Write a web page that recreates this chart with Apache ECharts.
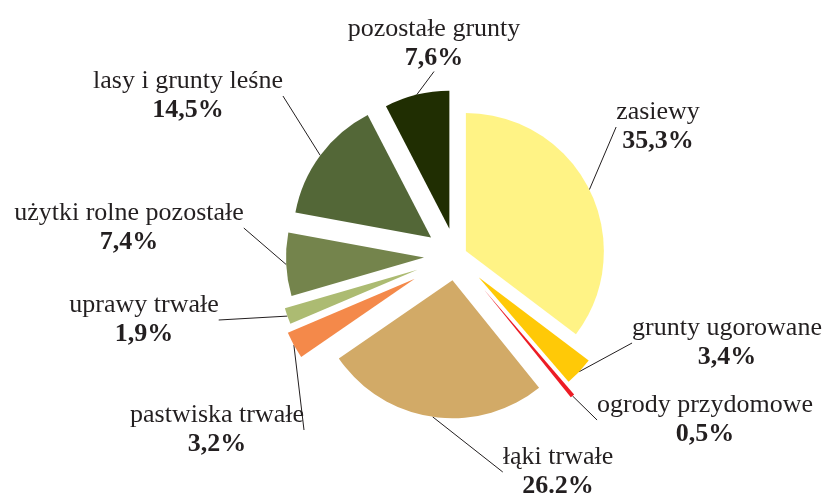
<!DOCTYPE html>
<html>
<head>
<meta charset="utf-8">
<script src="https://cdn.jsdelivr.net/npm/echarts@6/dist/echarts.min.js"></script>
<style>
  html, body { margin: 0; padding: 0; background: #fff; }
  #chart { width: 826px; height: 499px; }
</style>
</head>
<body>
<div id="chart"></div>
<script>
// udział powierzchni (%), kolejność zgodnie z ruchem wskazówek zegara od godz. 12
const categories = ['zasiewy', 'grunty ugorowane', 'ogrody przydomowe', 'łąki trwałe',
  'pastwiska trwałe', 'uprawy trwałe', 'użytki rolne pozostałe', 'lasy i grunty leśne', 'pozostałe grunty']
const values = [35.3, 3.4, 0.5, 26.2, 3.2, 1.9, 7.4, 14.5, 7.6]
const valueLabels = ['35,3%', '3,4%', '0,5%', '26.2%', '3,2%', '1,9%', '7,4%', '14,5%', '7,6%']

const colors = ['#fff385', '#ffc907', '#ed1c24', '#d2aa67', '#f4894a', '#acbb72', '#74844c', '#536737', '#202e02']
// wysunięcie wycinków od środka (px)
const explode = [11, 31, 44, 24.5, 47, 41, 32, 31, 28]
// środki bloków etykiet
const labelPos = [[658, 127], [727, 343], [705, 420], [558, 472], [217, 430], [144, 320], [129, 228], [188, 96], [434, 44]]

const pieCenter = [456, 256]
const pieRadius = 138
const textColor = '#231f20'
const font = '"Liberation Serif", "Times New Roman", serif'

const chart = echarts.init(document.getElementById('chart'), null, { renderer: 'canvas' })

// każdy wycinek jako osobna seria, przesunięta wzdłuż swojej dwusiecznej
const total = values.reduce((a, b) => a + b, 0)
let cum = 0
const series = categories.map((cat, i) => {
  const mid = (cum + values[i] / 2) / total * Math.PI * 2
  cum += values[i]
  return {
    type: 'pie',
    center: [pieCenter[0] + explode[i] * Math.sin(mid), pieCenter[1] - explode[i] * Math.cos(mid)],
    radius: pieRadius,
    startAngle: 90,
    clockwise: true,
    silent: true,
    avoidLabelOverlap: false,
    emphasis: { disabled: true },
    itemStyle: { borderWidth: 0 },
    label: {
      show: true,
      position: 'outside',
      formatter: p => '{n|' + p.name + '}\n{v|' + valueLabels[p.dataIndex] + '}',
      rich: {
        n: { fontFamily: font, fontSize: 26, color: textColor, lineHeight: 29, align: 'center' },
        v: { fontFamily: font, fontSize: 26, fontWeight: 'bold', color: textColor, lineHeight: 29, align: 'center' }
      }
    },
    labelLine: { show: true, length: 10, length2: 0, lineStyle: { color: textColor, width: 1 } },
    labelLayout: p => ({ x: labelPos[p.dataIndex][0], y: labelPos[p.dataIndex][1], align: 'center', verticalAlign: 'middle' }),
    data: categories.map((name, j) => ({
      name,
      value: values[j],
      itemStyle: { color: j === i ? colors[j] : 'rgba(0,0,0,0)' },
      label: { show: j === i },
      labelLine: { show: j === i }
    }))
  }
})

chart.setOption({
  backgroundColor: '#ffffff',
  animation: false,
  series
})
</script>
</body>
</html>
